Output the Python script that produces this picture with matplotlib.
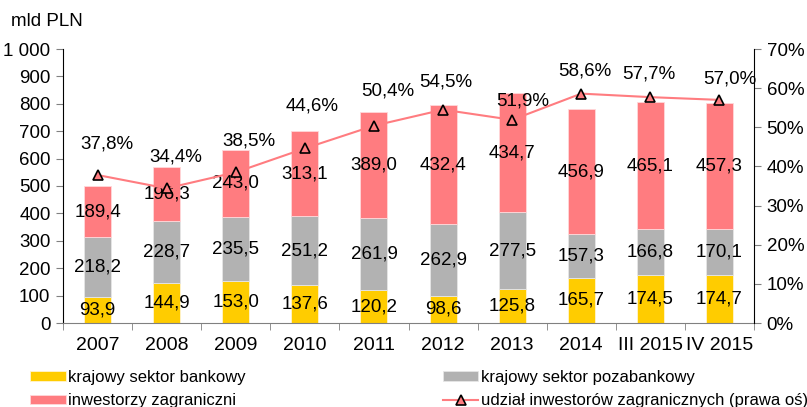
import numpy as np
import matplotlib.pyplot as plt

plt.rcParams['font.family'] = ['Liberation Sans', 'DejaVu Sans']

years = ["2007", "2008", "2009", "2010", "2011", "2012", "2013", "2014", "III 2015", "IV 2015"]
bank = [93.9, 144.9, 153.0, 137.6, 120.2, 98.6, 125.8, 165.7, 174.5, 174.7]
nonbank = [218.2, 228.7, 235.5, 251.2, 261.9, 262.9, 277.5, 157.3, 166.8, 170.1]
foreign = [189.4, 196.3, 243.0, 313.1, 389.0, 432.4, 434.7, 456.9, 465.1, 457.3]
share = [37.8, 34.4, 38.5, 44.6, 50.4, 54.5, 51.9, 58.6, 57.7, 57.0]

# where the % labels sit relative to their markers (px), as in the original
pct_dx = [9, 9, 13, 7, 14, 3, 11, 4, -2, 10]
pct_dy = [31, 31, 31, 42, 35, 28, 19, 23, 23, 21]

c_bank = "#FFCC00"
c_nonbank = "#B2B2B2"
c_foreign = "#FF7C80"
fs = 13.5

def fmt(v):
    return f"{v:.1f}".replace(".", ",")

fig = plt.figure(figsize=(8.07, 4.07), dpi=100)
ax = fig.add_axes([63/807, 1-323/407, (754-63)/807, (323-49)/407])
x = np.arange(len(years))
w = 0.39

b1 = ax.bar(x, bank, w, color=c_bank, edgecolor="#FFF4D0", linewidth=0.6, zorder=2)
b2 = ax.bar(x, nonbank, w, bottom=bank, color=c_nonbank, edgecolor="#E6E6E6", linewidth=0.6, zorder=2)
bot3 = np.array(bank) + np.array(nonbank)
b3 = ax.bar(x, foreign, w, bottom=bot3, color=c_foreign, edgecolor="#FFD8DA", linewidth=0.6, zorder=2)

for i in range(len(x)):
    ax.text(x[i], bank[i]/2, fmt(bank[i]), ha="center", va="center", fontsize=fs, zorder=5)
    ax.text(x[i], bank[i] + nonbank[i]/2, fmt(nonbank[i]), ha="center", va="center", fontsize=fs, zorder=5)
    ax.text(x[i], bot3[i] + foreign[i]/2, fmt(foreign[i]), ha="center", va="center", fontsize=fs, zorder=5)

ax.set_xlim(-0.5, len(x) - 0.5)
ax.set_ylim(0, 1000)
ax.set_yticks(range(0, 1001, 100))
ax.set_yticklabels([f"{v:,}".replace(",", " ") for v in range(0, 1001, 100)])
ax.set_xticks(x)
ax.set_xticklabels(years)
ax.set_xticks(np.arange(-0.5, len(x)), minor=True)
ax.tick_params(axis="x", which="major", length=0, pad=10, labelsize=14)
ax.tick_params(axis="x", which="minor", length=5, color="#808080")
ax.tick_params(axis="y", length=5, color="#808080", labelsize=fs, pad=4)
ax.spines["top"].set_visible(False)
ax.spines["right"].set_visible(False)
ax.spines["bottom"].set_color("#808080")
ax.spines["left"].set_color("black")

ax2 = ax.twinx()
ax2.set_ylim(0, 70)
ax2.set_yticks(range(0, 71, 10))
ax2.set_yticklabels([f"{v}%" for v in range(0, 71, 10)])
ax2.tick_params(axis="y", length=5, color="#808080", labelsize=fs, pad=4)
for s in ["top", "left", "bottom"]:
    ax2.spines[s].set_visible(False)
ax2.spines["right"].set_color("black")
ln, = ax2.plot(x, share, color=c_foreign, linewidth=1.5, marker="^", markersize=7,
               markerfacecolor=c_foreign, markeredgecolor="black", markeredgewidth=1.2, zorder=4)
for i in range(len(x)):
    ax2.annotate(f"{share[i]:.1f}%".replace(".", ","), (x[i], share[i]), xytext=(pct_dx[i], pct_dy[i]),
                 textcoords="offset pixels", ha="center", va="center", fontsize=fs)

fig.text(11/807, 1-21/407, "mld PLN", fontsize=fs, va="center", ha="left")

fig.legend([b1, b3, b2, ln],
           ["krajowy sektor bankowy", "inwestorzy zagraniczni",
            "krajowy sektor pozabankowy", "udział inwestorów zagranicznych (prawa oś)"],
           ncol=2, loc="upper left", bbox_to_anchor=(15/807, 1-355/407), frameon=False,
           fontsize=12, handlelength=2.15, handleheight=0.5, handletextpad=0.15,
           columnspacing=11.8, labelspacing=0.5, borderpad=0.4)

fig.savefig("out.png", dpi=100)
